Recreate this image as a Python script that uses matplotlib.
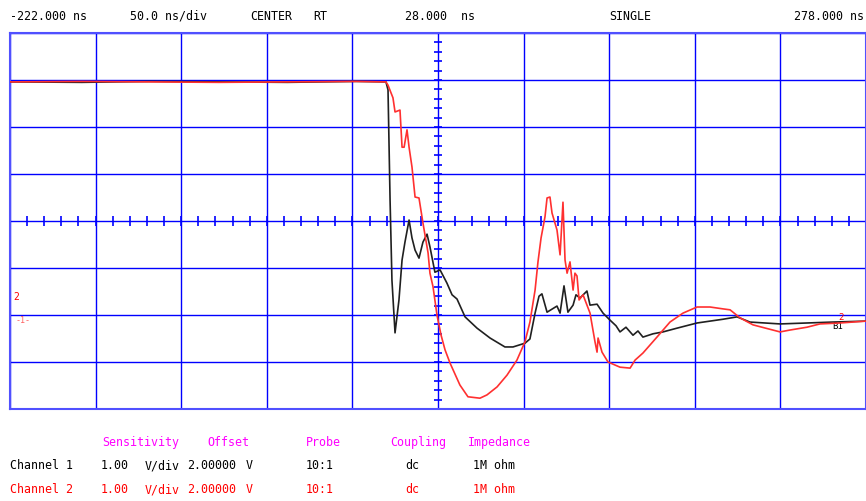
import matplotlib
matplotlib.use("Agg")
import matplotlib.pyplot as plt
import numpy as np

# scope settings (ns, V)
t_start, t_end, t_div = -222.0, 278.0, 50.0
t_center = 28.0
v_bottom, v_top, v_center = -2.0, 6.0, 2.0

# channel 1 (black) trace
ch1_t = [-222, -180, -140, -100, -60, -20, -2.4, -1.2, 0.0, 1.1, 2.9, 5.2, 7.0, 8.7, 11.1,
         12.8, 14.6, 16.9, 19.2, 21.6, 23.3, 26.2, 29.2, 33.2, 36.2, 39.1, 43.8, 50.8,
         58.4, 67.1, 71.8, 78.8, 81.7, 84.7, 87.0, 88.7, 91.7, 97.5, 99.3, 101.6, 103.9,
         106.9, 108.6, 110.9, 115.0, 116.8, 120.9, 124.4, 128.5, 132.0, 134.3, 137.8,
         141.9, 144.8, 147.7, 153.6, 159.4, 167.6, 179.3, 194.5, 202.7, 210.2, 227.8,
         243.5, 258.7, 278.0]
ch1_v = [4.96, 4.95, 4.97, 4.96, 4.95, 4.97, 4.96, 4.79, 2.45, 0.74, -0.38, 0.32, 1.17, 1.55,
         2.02, 1.64, 1.38, 1.21, 1.55, 1.72, 1.45, 0.91, 0.96, 0.68, 0.43, 0.34, -0.04,
         -0.28, -0.49, -0.68, -0.68, -0.60, -0.51, 0.04, 0.40, 0.45, 0.06, 0.19, 0.04,
         0.62, 0.06, 0.21, 0.43, 0.36, 0.51, 0.21, 0.23, 0.04, -0.11, -0.23, -0.36,
         -0.26, -0.43, -0.34, -0.47, -0.40, -0.36, -0.28, -0.17, -0.09, -0.04, -0.15,
         -0.19, -0.17, -0.15, -0.13]

# channel 2 (red) trace
ch2_t = [-222, -180, -140, -100, -60, -20, -2.4, -1.2, 1.7, 2.9, 5.8, 7.0, 8.2, 9.9, 11.1,
         12.8, 14.6, 16.9, 19.2, 22.2, 23.3, 25.1, 27.4, 29.8, 32.1, 35.0, 40.8, 45.5,
         52.5, 56.6, 62.5, 68.3, 74.1, 78.8, 81.7, 84.7, 86.4, 88.2, 90.5, 91.7, 93.4,
         94.6, 97.5, 99.3, 101.0, 102.2, 103.4, 105.1, 106.9, 108.0, 109.2, 110.4, 112.7,
         116.8, 119.7, 120.9, 121.5, 123.8, 127.3, 134.3, 140.2, 143.1, 147.7, 155.9,
         163.5, 171.1, 179.3, 186.9, 194.5, 198.6, 204.4, 212.0, 227.8, 233.6, 243.5,
         251.1, 262.8, 278.0]
ch2_v = [4.96, 4.97, 4.96, 4.95, 4.96, 4.97, 4.96, 4.89, 4.62, 4.32, 4.36, 3.57, 3.57, 3.94,
         3.57, 3.15, 2.51, 2.49, 1.96, 1.32, 0.89, 0.60, 0.00, -0.43, -0.74, -1.02, -1.49,
         -1.74, -1.77, -1.70, -1.53, -1.28, -0.96, -0.57, -0.15, 0.53, 1.13, 1.64, 2.09,
         2.49, 2.51, 2.17, 1.81, 1.28, 2.40, 1.17, 0.89, 1.13, 0.53, 0.89, 0.83, 0.32,
         0.43, 0.04, -0.57, -0.79, -0.49, -0.79, -1.00, -1.11, -1.13, -0.96, -0.81,
         -0.47, -0.15, 0.04, 0.17, 0.17, 0.13, 0.11, -0.06, -0.21, -0.36, -0.32, -0.26,
         -0.19, -0.17, -0.13]

header = ["-222.000 ns", "50.0 ns/div", "CENTER", "RT", "28.000  ns", "SINGLE", "278.000 ns"]
columns = ["Sensitivity", "Offset", "Probe", "Coupling", "Impedance"]
row1 = ["Channel 1", "1.00", "V/div", "2.00000", "V", "10:1", "dc", "1M ohm"]
row2 = ["Channel 2", "1.00", "V/div", "2.00000", "V", "10:1", "dc", "1M ohm"]

W, H = 866, 502
fig = plt.figure(figsize=(W / 100, H / 100), dpi=100)
ax = fig.add_axes([10 / W, 1 - 410 / H, 856 / W, 376 / H])
blue = "#0000ff"

ax.set_xlim(t_start, t_end)
ax.set_ylim(v_bottom, v_top)
ax.set_xticks(np.arange(t_start, t_end + 1, t_div))
ax.set_yticks(np.arange(v_bottom, v_top + 0.1, 1.0))
ax.grid(True, color=blue, linewidth=1.0)
ax.tick_params(length=0, labelbottom=False, labelleft=False)
for s in ax.spines.values():
    s.set_color("#5050ff")
    s.set_linewidth(1.5)

# small division ticks along the centre cross
ax.plot(np.arange(t_start, t_end + 1, 10), np.full(51, v_center), ls="none",
        marker="|", ms=7, mew=1.2, color=blue)
ax.plot(np.full(41, t_center), np.arange(v_bottom, v_top + 0.01, 0.2), ls="none",
        marker="_", ms=6, mew=1.2, color=blue)

ax.plot(ch1_t, ch1_v, color="#202020", lw=1.2, zorder=3)
ax.plot(ch2_t, ch2_v, color="#ff3030", lw=1.2, zorder=4)

# ground markers
ax.text(t_start + 2, 0.35, "2", color="red", fontsize=7, family="DejaVu Sans Mono")
ax.text(t_start + 3, -0.15, "-1-", color="#ff6060", fontsize=6, family="DejaVu Sans Mono")
ax.text(t_end - 20, -0.28, "B1", color="black", fontsize=6.5, family="DejaVu Sans Mono")
ax.text(t_end - 16, -0.08, "2", color="red", fontsize=6.5, family="DejaVu Sans Mono")

mono = dict(family="DejaVu Sans Mono", fontsize=8.4, va="center")
hx = [10, 130, 250, 313, 405, 609]
for x, s in zip(hx, header[:-1]):
    fig.text(x / W, 1 - 16 / H, s, **mono)
fig.text(864 / W, 1 - 16 / H, header[-1], ha="right", **mono)

cx = [102, 207, 306, 390, 468]
for x, s in zip(cx, columns):
    fig.text(x / W, 1 - 443 / H, s, color="#ff00ff", **mono)

rx = [10, 101, 145, 187, 246, 306, 405, 473]
for x, s in zip(rx, row1):
    fig.text(x / W, 1 - 466 / H, s, color="black", **mono)
for x, s in zip(rx, row2):
    fig.text(x / W, 1 - 490 / H, s, color="red", **mono)

fig.savefig("out.png", dpi=100)
